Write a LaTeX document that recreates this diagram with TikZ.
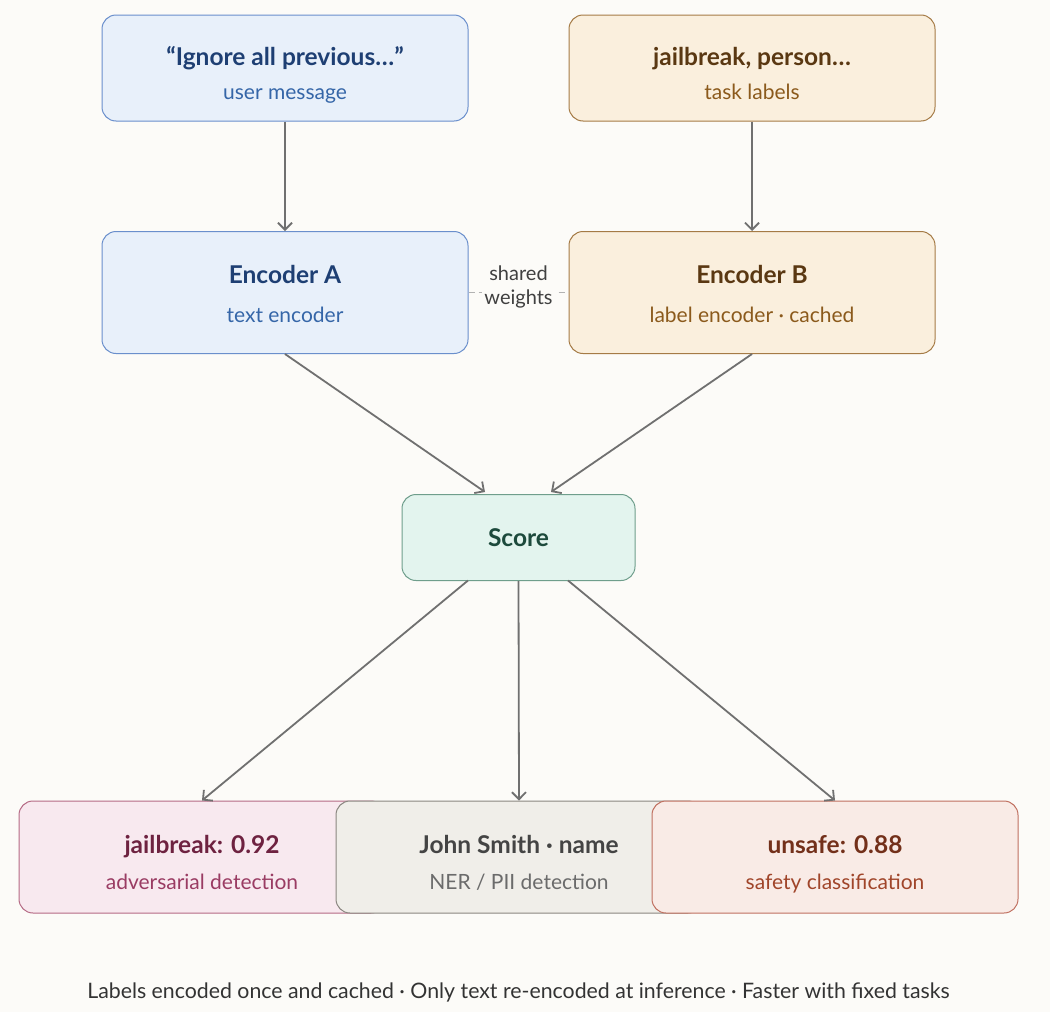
\documentclass[tikz,border=0pt]{standalone}
\usepackage{fontspec}
\setmainfont{Lato}
\usetikzlibrary{arrows.meta}
\definecolor{bg}{HTML}{FCFBF8}
\definecolor{bluefill}{HTML}{E8F0FA}\definecolor{blueline}{HTML}{6A8FCC}
\definecolor{bluetitle}{HTML}{1E3F73}\definecolor{bluesub}{HTML}{3566A8}
\definecolor{tanfill}{HTML}{FAEFDD}\definecolor{tanline}{HTML}{A57B46}
\definecolor{tantitle}{HTML}{5A3812}\definecolor{tansub}{HTML}{8B5A1C}
\definecolor{greenfill}{HTML}{E3F4EE}\definecolor{greenline}{HTML}{6F9E8C}
\definecolor{greentitle}{HTML}{1D4A3C}
\definecolor{pinkfill}{HTML}{F8E9EF}\definecolor{pinkline}{HTML}{B56A85}
\definecolor{pinktitle}{HTML}{6E2240}\definecolor{pinksub}{HTML}{9A3C63}
\definecolor{grayfill}{HTML}{F0EEE9}\definecolor{grayline}{HTML}{8A8680}
\definecolor{graytitle}{HTML}{444444}\definecolor{graysub}{HTML}{6B6B6B}
\definecolor{peachfill}{HTML}{F9EBE6}\definecolor{peachline}{HTML}{C07060}
\definecolor{peachtitle}{HTML}{73301A}\definecolor{peachsub}{HTML}{A0452A}
\definecolor{arrowgray}{HTML}{707070}
\definecolor{footgray}{HTML}{333333}
\tikzset{
  box/.style={draw, rounded corners=14pt, line width=1pt, inner sep=0pt},
  ttl/.style={font=\fontsize{24.5}{28}\selectfont\bfseries, anchor=base},
  sub/.style={font=\fontsize{21}{25}\selectfont, anchor=base},
  arr/.style={draw=arrowgray, line width=1.8pt, -{Straight Barb[length=7pt,width=14pt,line width=1.8pt]}},
}
\begin{document}
\begin{tikzpicture}[x=1pt,y=-1pt]
\fill[bg] (0,0) rectangle (1050,1012);
\useasboundingbox (0,0) rectangle (1050,1012);
% top boxes
\node[box, fill=bluefill, draw=blueline, minimum width=366pt, minimum height=106pt] (msg) at (285,68) {};
\node[ttl, text=bluetitle] (msgt) at (285,65) {“Ignore all previous…”};
\node[sub, text=bluesub] (msgs) at (285,99) {user message};
\node[box, fill=tanfill, draw=tanline, minimum width=366pt, minimum height=106pt] (lab) at (752,68) {};
\node[ttl, text=tantitle] (labt) at (752,65) {jailbreak, person…};
\node[sub, text=tansub] (labs) at (752,99) {task labels};
% encoders
\node[box, fill=bluefill, draw=blueline, minimum width=366pt, minimum height=122pt] (encA) at (285,292.5) {};
\node[ttl, text=bluetitle] (encAt) at (285,283) {Encoder A};
\node[sub, text=bluesub] (encAs) at (285,322) {text encoder};
\node[box, fill=tanfill, draw=tanline, minimum width=366pt, minimum height=122pt] (encB) at (752,292.5) {};
\node[ttl, text=tantitle] (encBt) at (752,283) {Encoder B};
\node[sub, text=tansub] (encBs) at (752,322) {label encoder · cached};
% shared weights
\draw[draw=black!30, line width=1.2pt, dash pattern=on 6pt off 4pt] (encA.east) -- (encB.east -| encB.west);
\node[fill=bg, inner sep=2pt, align=center, text=black!75, font=\fontsize{20}{24}\selectfont] (sw) at (518.5,287) {shared\\weights};
% score
\node[box, fill=greenfill, draw=greenline, minimum width=233pt, minimum height=86pt] (score) at (518.5,537.5) {};
\node[ttl, text=greentitle] (scoret) at (518.5,546) {Score};
% bottom
\node[box, fill=pinkfill, draw=pinkline, minimum width=366pt, minimum height=112pt] (o1) at (202,857) {};
\node[ttl, text=pinktitle] at (202,853) {jailbreak: 0.92};
\node[sub, text=pinksub] at (202,889) {adversarial detection};
\node[box, fill=grayfill, draw=grayline, minimum width=366pt, minimum height=112pt] (o2) at (519,857) {};
\node[ttl, text=graytitle] at (519,853) {John Smith · name};
\node[sub, text=graysub] at (519,889) {NER / PII detection};
\node[box, fill=peachfill, draw=peachline, minimum width=366pt, minimum height=112pt] (o3) at (835,857) {};
\node[ttl, text=peachtitle] at (835,853) {unsafe: 0.88};
\node[sub, text=peachsub] at (835,889) {safety classification};
% arrows
\coordinate (sA) at (485,492);
\coordinate (sB) at (551,492);
\draw[arr] (msg.south) -- (encA.north);
\draw[arr] (lab.south) -- (encB.north);
\draw[arr] (encA.south) -- (sA);
\draw[arr] (encB.south) -- (sB);
\coordinate (s1) at (468,580.5);
\coordinate (s3) at (568,580.5);
\draw[arr] (s1) -- (o1.north);
\draw[arr] (score.south) -- (o2.north);
\draw[arr] (s3) -- (o3.north);
% footer
\node[anchor=base, text=footgray, font=\fontsize{21.3}{25}\selectfont] (foot) at (518.5,998) {Labels encoded once and cached · Only text re-encoded at inference · Faster with fixed tasks};
\end{tikzpicture}
\end{document}
